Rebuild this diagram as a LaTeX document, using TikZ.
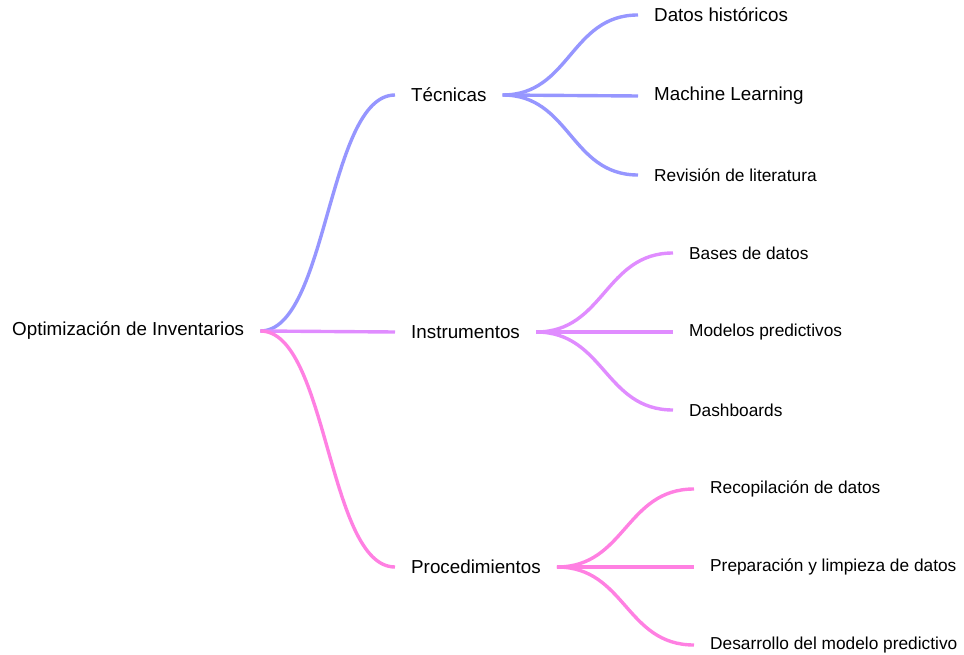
\documentclass[tikz,border=0pt]{standalone}
\usepackage{fontspec}
\setmainfont{Liberation Sans}
\usetikzlibrary{calc}
\definecolor{cblue}{RGB}{150,150,255}
\definecolor{cpurple}{RGB}{224,140,255}
\definecolor{cpink}{RGB}{255,128,226}
\tikzset{
  lbl/.style={anchor=west, inner xsep=16pt, inner ysep=2pt, font=\fontsize{18.8}{20}\selectfont, text=black},
  leafs/.style={lbl, font=\fontsize{17.3}{19}\selectfont},
  conn/.style={line width=3.4pt}
}
\newcommand{\sbranch}[3]{%
  \draw[conn,#1] (#2) .. controls ($(#2)!0.5!(#2 -| #3)$) and ($(#3)!0.5!(#3 -| #2)$) .. (#3);}
\begin{document}
\begin{tikzpicture}[x=1pt,y=-1pt]
\useasboundingbox (0,0) rectangle (964,655);
% nodes
\node[lbl] (root) at (-4,331) {Optimización de Inventarios};
\node[lbl] (tec) at (395,95) {Técnicas};
\node[lbl] (ins) at (395,332) {Instrumentos};
\node[lbl] (pro) at (395,567) {Procedimientos};
\node[lbl] (t1) at (638,15) {Datos históricos};
\node[lbl] (t2) at (638,96) {Machine Learning};
\node[leafs] (t3) at (638,175) {Revisión de literatura};
\node[leafs] (i1) at (673,253) {Bases de datos};
\node[leafs] (i2) at (673,332) {Modelos predictivos};
\node[leafs] (i3) at (673,410) {Dashboards};
\node[leafs] (p1) at (694,489) {Recopilación de datos};
\node[leafs] (p2) at (694,567) {Preparación y limpieza de datos};
\node[leafs] (p3) at (694,645) {Desarrollo del modelo predictivo};
% connectors
\sbranch{cblue}{root.east}{tec.west}
\sbranch{cpurple}{root.east}{ins.west}
\sbranch{cpink}{root.east}{pro.west}
\sbranch{cblue}{tec.east}{t1.west}
\sbranch{cblue}{tec.east}{t2.west}
\sbranch{cblue}{tec.east}{t3.west}
\sbranch{cpurple}{ins.east}{i1.west}
\sbranch{cpurple}{ins.east}{i2.west}
\sbranch{cpurple}{ins.east}{i3.west}
\sbranch{cpink}{pro.east}{p1.west}
\sbranch{cpink}{pro.east}{p2.west}
\sbranch{cpink}{pro.east}{p3.west}
\end{tikzpicture}
\end{document}
